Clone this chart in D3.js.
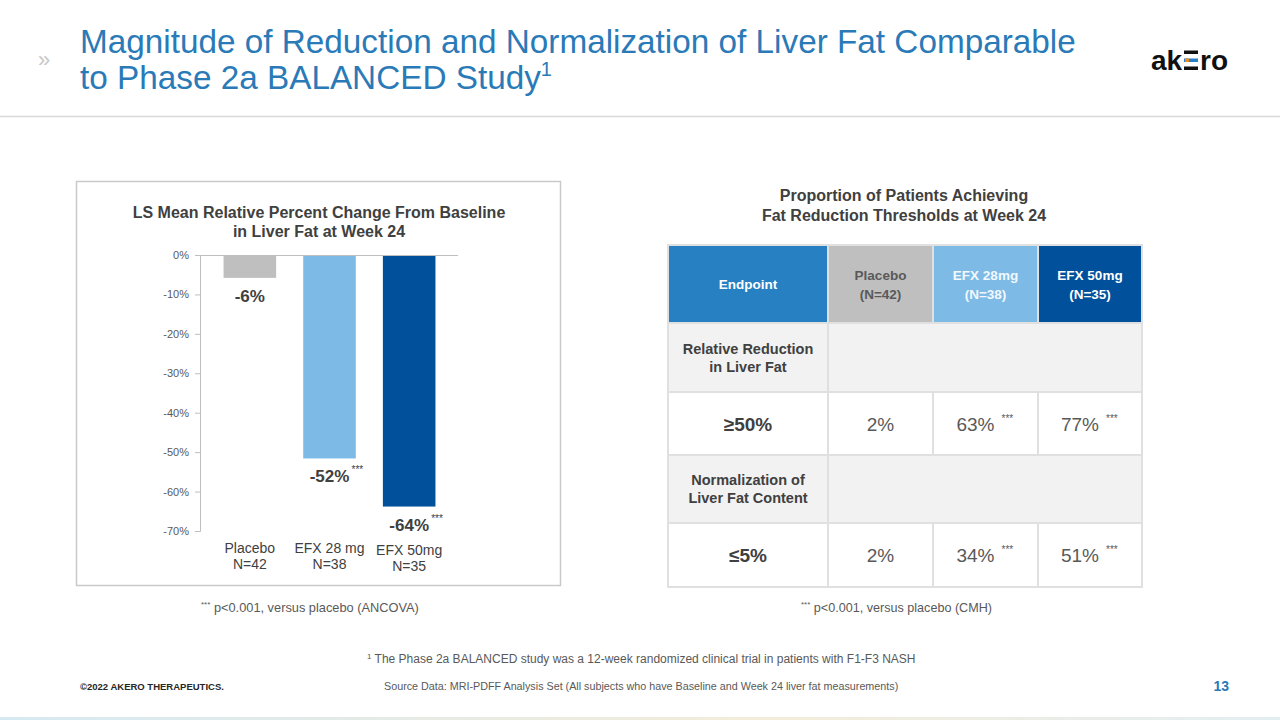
<!DOCTYPE html>
<html>
<head>
<meta charset="utf-8">
<script src="https://cdn.jsdelivr.net/npm/d3@7"></script>
<style>
  body { margin: 0; background: #fff; }
  svg text { font-family: "Liberation Sans", Arial, sans-serif; }
</style>
</head>
<body>
<div id="vis"></div>
<script>
// chart data
const groups = ["Placebo", "EFX 28 mg", "EFX 50mg"];
const groupN = ["N=42", "N=38", "N=35"];
const lsMeanChange = [-5.8, -51.6, -63.8];
const valueLabels = ["-6%", "-52%", "-64%"];
const significant = [false, true, true];
const yTicks = [0, -10, -20, -30, -40, -50, -60, -70];
const barColors = ["#bfbfbf", "#7dbae6", "#00509b"];

// table data
const tableHeaders = [["Endpoint"], ["Placebo", "(N=42)"], ["EFX 28mg", "(N=38)"], ["EFX 50mg", "(N=35)"]];
const headerColors = ["#2680c2", "#bfbfbf", "#7dbae6", "#00509b"];
const headerText = ["#ffffff", "#595959", "#f2f8fd", "#ffffff"];
const sectionLabels = [["Relative Reduction", "in Liver Fat"], ["Normalization of", "Liver Fat Content"]];
const thresholds = ["≥50%", "≤5%"];
const reduction50 = ["2%", "63%", "77%"];
const normalization5 = ["2%", "34%", "51%"];
const tableSig = [false, true, true];

const W = 1280, H = 720;
const svg = d3.select("#vis").append("svg").attr("width", W).attr("height", H);

// ---- header ----
svg.append("text").attr("x", 38).attr("y", 67).attr("fill", "#c8c8c8")
  .style("font-size", "22px").text("»");
const title = svg.append("text").attr("fill", "#2a7ab8").style("font-size", "33.3px");
title.append("tspan").attr("x", 80).attr("y", 53)
  .text("Magnitude of Reduction and Normalization of Liver Fat Comparable");
title.append("tspan").attr("x", 80).attr("y", 89).text("to Phase 2a BALANCED Study");
title.append("tspan").attr("dy", -13).style("font-size", "20px").text("1");
svg.append("line").attr("x1", 0).attr("x2", W).attr("y1", 116.5).attr("y2", 116.5)
  .attr("stroke", "#d9d9d9").attr("stroke-width", 1.5);

// logo
const logo = svg.append("g").attr("transform", "translate(1151,70)");
logo.append("text").attr("x", 0).attr("y", 0).attr("fill", "#111")
  .style("font-size", "28px").style("font-weight", "bold").text("ak");
logo.append("rect").attr("x", 33).attr("y", -19.5).attr("width", 14).attr("height", 3.5).attr("fill", "#111");
logo.append("rect").attr("x", 33).attr("y", -3.5).attr("width", 14).attr("height", 3.5).attr("fill", "#111");
logo.append("rect").attr("x", 33).attr("y", -11.5).attr("width", 14).attr("height", 3.5).attr("fill", "#2680c2");
logo.append("rect").attr("x", 34).attr("y", -11.5).attr("width", 4).attr("height", 3.5).attr("fill", "#f08a24");
logo.append("text").attr("x", 49).attr("y", 0).attr("fill", "#111")
  .style("font-size", "28px").style("font-weight", "bold").text("ro");

// ---- left bar chart ----
svg.append("rect").attr("x", 76.5).attr("y", 181.5).attr("width", 484).attr("height", 404)
  .attr("fill", "#fff").attr("stroke", "#c9c9c9").attr("stroke-width", 1.5);
const ct = svg.append("text").attr("text-anchor", "middle").attr("fill", "#404040")
  .style("font-size", "16px").style("font-weight", "bold");
ct.append("tspan").attr("x", 319).attr("y", 218).text("LS Mean Relative Percent Change From Baseline");
ct.append("tspan").attr("x", 319).attr("y", 237).text("in Liver Fat at Week 24");

const y = d3.scaleLinear().domain([0, -70]).range([255, 531]);
const x = d3.scaleBand().domain(groups).range([210, 449]).paddingInner(0.34).paddingOuter(0.17);

const yAxis = svg.append("g").attr("transform", "translate(200,0)")
  .call(d3.axisLeft(y).tickValues(yTicks).tickSize(5).tickPadding(6).tickFormat(d => d + "%"));
yAxis.selectAll("text").attr("fill", "#595959").style("font-size", "11px");
yAxis.selectAll("line").attr("stroke", "#bfbfbf");
yAxis.select(".domain").attr("stroke", "#bfbfbf").attr("d", "M-5,255.5H0.5V531.5H-5");

svg.append("line").attr("x1", 200).attr("x2", 458).attr("y1", y(0) + 0.5).attr("y2", y(0) + 0.5)
  .attr("stroke", "#bfbfbf");

svg.selectAll(".bar").data(groups).enter().append("rect")
  .attr("x", d => x(d)).attr("width", x.bandwidth())
  .attr("y", y(0) + 1)
  .attr("height", (d, i) => y(lsMeanChange[i]) - y(0) - 1)
  .attr("fill", (d, i) => barColors[i]);

const vl = svg.selectAll(".vlab").data(groups).enter().append("g");
vl.append("text")
  .attr("x", d => x(d) + x.bandwidth() / 2)
  .attr("y", (d, i) => y(lsMeanChange[i]) + 24)
  .attr("text-anchor", "middle").attr("fill", "#404040")
  .style("font-size", "17px").style("font-weight", "bold")
  .text((d, i) => valueLabels[i]);
vl.filter((d, i) => significant[i]).append("text")
  .attr("x", d => x(d) + x.bandwidth() / 2 + 22)
  .attr("y", d => y(lsMeanChange[groups.indexOf(d)]) + 15)
  .attr("fill", "#404040").style("font-size", "10px").text("***");

const cl = svg.selectAll(".clab").data(groups).enter().append("text")
  .attr("text-anchor", "middle").attr("fill", "#404040").style("font-size", "14px");
cl.append("tspan").attr("x", d => x(d) + x.bandwidth() / 2).attr("y", (d, i) => i === 2 ? 555 : 553).text(d => d);
cl.append("tspan").attr("x", d => x(d) + x.bandwidth() / 2).attr("dy", 16).text((d, i) => groupN[i]);

function footnote(xp, label, size) {
  const t = svg.append("text").attr("x", xp).attr("y", 612).attr("fill", "#595959").style("font-size", size);
  t.append("tspan").attr("dy", -5).style("font-size", "8px").text("***");
  t.append("tspan").attr("dy", 5).text(" " + label);
}
footnote(201, "p<0.001, versus placebo (ANCOVA)", "12.8px");
footnote(801, "p<0.001, versus placebo (CMH)", "12.6px");

// ---- right table ----
const tt = svg.append("text").attr("text-anchor", "middle").attr("fill", "#404040")
  .style("font-size", "16px").style("font-weight", "bold");
tt.append("tspan").attr("x", 904).attr("y", 201).text("Proportion of Patients Achieving");
tt.append("tspan").attr("x", 904).attr("y", 221).text("Fat Reduction Thresholds at Week 24");

const colEdges = [668, 828, 933, 1038, 1142];
const rowEdges = [245, 323, 392, 455, 523, 587];
const tbl = svg.append("g");
const cx = i => (colEdges[i] + colEdges[i + 1]) / 2;
const cy = r => (rowEdges[r] + rowEdges[r + 1]) / 2;

// header
tableHeaders.forEach((lines, i) => {
  tbl.append("rect").attr("x", colEdges[i]).attr("y", rowEdges[0])
    .attr("width", colEdges[i + 1] - colEdges[i]).attr("height", rowEdges[1] - rowEdges[0])
    .attr("fill", headerColors[i]).attr("stroke", "#e0e0e0").attr("stroke-width", 2);
  const t = tbl.append("text").attr("text-anchor", "middle").attr("fill", headerText[i])
    .style("font-size", "13.5px").style("font-weight", "bold");
  lines.forEach((s, k) => t.append("tspan").attr("x", cx(i))
    .attr("y", cy(0) + 5 + (k - (lines.length - 1) / 2) * 19).text(s));
});

const valueRows = [reduction50, normalization5];
sectionLabels.forEach((lines, s) => {
  const r = 1 + s * 2;
  tbl.append("rect").attr("x", colEdges[0]).attr("y", rowEdges[r])
    .attr("width", colEdges[1] - colEdges[0]).attr("height", rowEdges[r + 1] - rowEdges[r])
    .attr("fill", "#f2f2f2").attr("stroke", "#e0e0e0").attr("stroke-width", 2);
  tbl.append("rect").attr("x", colEdges[1]).attr("y", rowEdges[r])
    .attr("width", colEdges[4] - colEdges[1]).attr("height", rowEdges[r + 1] - rowEdges[r])
    .attr("fill", "#f2f2f2").attr("stroke", "#e0e0e0").attr("stroke-width", 2);
  const t = tbl.append("text").attr("text-anchor", "middle").attr("fill", "#404040")
    .style("font-size", "14.5px").style("font-weight", "bold");
  lines.forEach((str, k) => t.append("tspan").attr("x", cx(0))
    .attr("y", cy(r) + 5 + (k - 0.5) * 18).text(str));

  const rv = r + 1;
  for (let c = 0; c < 4; c++) {
    tbl.append("rect").attr("x", colEdges[c]).attr("y", rowEdges[rv])
      .attr("width", colEdges[c + 1] - colEdges[c]).attr("height", rowEdges[rv + 1] - rowEdges[rv])
      .attr("fill", "#fff").attr("stroke", "#e0e0e0").attr("stroke-width", 2);
  }
  tbl.append("text").attr("x", cx(0)).attr("y", cy(rv) + 7).attr("text-anchor", "middle")
    .attr("fill", "#404040").style("font-size", "19px").style("font-weight", "bold").text(thresholds[s]);
  valueRows[s].forEach((v, k) => {
    const off = tableSig[k] ? -10 : 0;
    tbl.append("text").attr("x", cx(k + 1) + off).attr("y", cy(rv) + 7).attr("text-anchor", "middle")
      .attr("fill", "#595959").style("font-size", "19px").text(v);
    if (tableSig[k]) {
      tbl.append("text").attr("x", cx(k + 1) + 16).attr("y", cy(rv) - 2)
        .attr("fill", "#595959").style("font-size", "10px").text("***");
    }
  });
});

// ---- footer ----
const fn = svg.append("text").attr("x", 367).attr("y", 663).attr("fill", "#595959").style("font-size", "12px");
fn.append("tspan").attr("dy", -4).style("font-size", "8px").text("1");
fn.append("tspan").attr("dy", 4).text(" The Phase 2a BALANCED study was a 12-week randomized clinical trial in patients with F1-F3 NASH");
svg.append("text").attr("x", 80).attr("y", 690).attr("fill", "#262626")
  .style("font-size", "9.5px").style("font-weight", "bold").text("©2022 AKERO THERAPEUTICS.");
svg.append("text").attr("x", 384).attr("y", 690).attr("fill", "#595959").style("font-size", "10.75px")
  .text("Source Data: MRI-PDFF Analysis Set (All subjects who have Baseline and Week 24 liver fat measurements)");
svg.append("text").attr("x", 1229).attr("y", 691).attr("text-anchor", "end").attr("fill", "#2a7ab8")
  .style("font-size", "14px").style("font-weight", "bold").text("13");

const grad = svg.append("defs").append("linearGradient").attr("id", "bottomGrad");
grad.append("stop").attr("offset", "0%").attr("stop-color", "#d6e9f2");
grad.append("stop").attr("offset", "60%").attr("stop-color", "#f3ecd9");
grad.append("stop").attr("offset", "100%").attr("stop-color", "#e3eef2");
svg.append("rect").attr("x", 0).attr("y", 717).attr("width", W).attr("height", 3).attr("fill", "url(#bottomGrad)");
</script>
</body>
</html>
